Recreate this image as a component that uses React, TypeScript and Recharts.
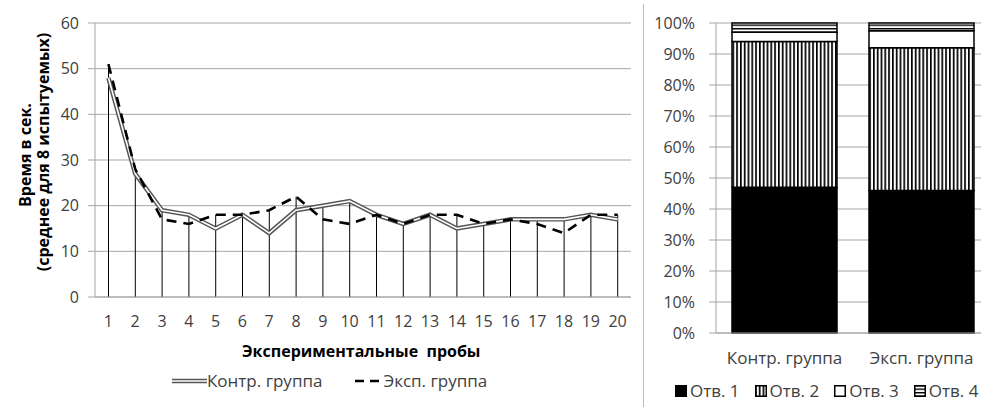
import React from 'react';
import { ComposedChart, BarChart, Bar, Line, XAxis, YAxis, CartesianGrid } from 'recharts';

const trials = ['1', '2', '3', '4', '5', '6', '7', '8', '9', '10', '11', '12', '13', '14', '15', '16', '17', '18', '19', '20'];
const controlTimes = [48, 27, 19, 18, 15, 18, 14, 19, 20, 21, 18, 16, 18, 15, 16, 17, 17, 17, 18, 17];
const expTimes = [51, 28, 17, 16, 18, 18, 19, 22, 17, 16, 18, 16, 18, 18, 16, 17, 16, 14, 18, 18];
const timeTicks = [0, 10, 20, 30, 40, 50, 60];

const groups = ['Контр. группа', 'Эксп. группа'];
const answer1 = [47, 46];
const answer2 = [47, 46];
const answer3 = [3, 5.5];
const answer4 = [3, 2.5];
const percentTicks = [0, 10, 20, 30, 40, 50, 60, 70, 80, 90, 100];

const FONT = '"Open Sans", "Noto Sans", sans-serif';
const TICK = { fontSize: 16, fill: '#404040', fontFamily: FONT };
const CAT_TICK = { fontSize: 17, fill: '#404040', fontFamily: FONT };
const GRID = '#a6a6a6';

const lineData = trials.map((t, i) => ({
  trial: t,
  ctrl: controlTimes[i],
  exp: expTimes[i],
  drop: Math.max(controlTimes[i], expTimes[i]),
}));

const barData = groups.map((g, i) => ({
  group: g,
  a1: answer1[i],
  a2: answer2[i],
  a3: answer3[i],
  a4: answer4[i],
}));

function YTitle() {
  return (
    <g fontFamily={FONT} fontWeight="bold" fontSize={16} fill="#000">
      <text x={25} y={155} transform="rotate(-90 25 155)" textAnchor="middle" dominantBaseline="central">
        Время в сек.
      </text>
      <text x={43} y={152} transform="rotate(-90 43 152)" textAnchor="middle" dominantBaseline="central">
        (среднее для 8 испытуемых)
      </text>
    </g>
  );
}

function Swatch({ fill }: { fill: string }) {
  return (
    <svg width={12} height={12} style={{ marginRight: 3 }}>
      <rect x={0.75} y={0.75} width={10.5} height={10.5} fill={fill} stroke="#000" strokeWidth={1.5} />
    </svg>
  );
}

export default function App() {
  return (
    <div style={{ position: 'absolute', left: 0, top: 0, width: 981, height: 407, overflow: 'hidden', background: '#fff', fontFamily: FONT }}>
      <svg width={0} height={0} style={{ position: 'absolute' }}>
        <defs>
          <pattern id="vstripes" patternUnits="userSpaceOnUse" width={3.8} height={4}>
            <rect x={0} y={0} width={3.8} height={4} fill="#fff" />
            <rect x={0} y={0} width={1.7} height={4} fill="#000" />
          </pattern>
          <pattern id="hstripes" patternUnits="userSpaceOnUse" width={4} height={3.5}>
            <rect x={0} y={0} width={4} height={3.5} fill="#fff" />
            <rect x={0} y={0} width={4} height={1.4} fill="#000" />
          </pattern>
        </defs>
      </svg>

      {/* left: time per trial */}
      <div style={{ position: 'absolute', left: 0, top: 0 }}>
        <ComposedChart width={645} height={407} data={lineData} margin={{ top: 23, right: 14, bottom: 80, left: 35 }}>
          <CartesianGrid vertical={false} stroke={GRID} />
          <XAxis
            dataKey="trial"
            tick={TICK}
            tickLine={false}
            tickSize={0}
            tickMargin={19}
            axisLine={{ stroke: GRID }}
            height={30}
            interval={0}
          />
          <YAxis
            domain={[0, 60]}
            ticks={timeTicks}
            tick={TICK}
            tickSize={7}
            tickMargin={9}
            tickLine={{ stroke: GRID }}
            axisLine={{ stroke: GRID }}
            width={60}
            label={{ content: () => <YTitle /> }}
          />
          <Bar dataKey="drop" barSize={1} fill="#000" isAnimationActive={false} legendType="none" />
          <Line dataKey="ctrl" stroke="#555" strokeWidth={4.5} dot={false} isAnimationActive={false} />
          <Line dataKey="ctrl" stroke="#fff" strokeWidth={1.6} dot={false} isAnimationActive={false} />
          <Line dataKey="exp" stroke="#000" strokeWidth={2.6} strokeDasharray="10 7" dot={false} isAnimationActive={false} />
        </ComposedChart>
        <div style={{ position: 'absolute', left: 242, top: 340, fontSize: 16, fontWeight: 'bold', color: '#000', whiteSpace: 'pre' }}>
          Экспериментальные  пробы
        </div>
        <div style={{ position: 'absolute', left: 172, top: 369, display: 'flex', alignItems: 'center', fontSize: 17, color: '#404040' }}>
          <svg width={35} height={8}>
            <line x1={0} y1={4} x2={35} y2={4} stroke="#555" strokeWidth={4.5} />
            <line x1={0} y1={4} x2={35} y2={4} stroke="#fff" strokeWidth={1.6} />
          </svg>
          <span>Контр. группа</span>
          <svg width={24} height={8} style={{ marginLeft: 33, marginRight: 4 }}>
            <line x1={0} y1={4} x2={24} y2={4} stroke="#000" strokeWidth={2.6} strokeDasharray="9 6" />
          </svg>
          <span>Эксп. группа</span>
        </div>
      </div>

      <div style={{ position: 'absolute', left: 643, top: 4, width: 1, height: 403, background: '#bbb' }} />

      {/* right: answer shares */}
      <div style={{ position: 'absolute', left: 645, top: 0 }}>
        <BarChart width={345} height={407} data={barData} margin={{ top: 23, right: 0, bottom: 44, left: 0 }}>
          <CartesianGrid vertical={false} stroke={GRID} />
          <XAxis
            dataKey="group"
            tick={CAT_TICK}
            tickLine={false}
            tickSize={0}
            tickMargin={19}
            axisLine={{ stroke: GRID }}
            height={30}
          />
          <YAxis
            domain={[0, 100]}
            ticks={percentTicks}
            tickFormatter={(v: number) => `${v}%`}
            tick={TICK}
            tickSize={7}
            tickMargin={14}
            tickLine={{ stroke: GRID }}
            axisLine={{ stroke: GRID }}
            width={71}
          />
          <Bar dataKey="a1" stackId="s" barSize={105} fill="#000" stroke="#000" strokeWidth={1.5} isAnimationActive={false} />
          <Bar dataKey="a2" stackId="s" barSize={105} fill="url(#vstripes)" stroke="#000" strokeWidth={1.5} isAnimationActive={false} />
          <Bar dataKey="a3" stackId="s" barSize={105} fill="#fff" stroke="#000" strokeWidth={1.5} isAnimationActive={false} />
          <Bar dataKey="a4" stackId="s" barSize={105} fill="url(#hstripes)" stroke="#000" strokeWidth={1.5} isAnimationActive={false} />
        </BarChart>
      </div>
      <div style={{ position: 'absolute', left: 675, top: 379, display: 'flex', alignItems: 'center', fontSize: 17, color: '#404040' }}>
        <Swatch fill="#000" />
        <span style={{ marginRight: 15 }}>Отв. 1</span>
        <Swatch fill="url(#vstripes)" />
        <span style={{ marginRight: 15 }}>Отв. 2</span>
        <Swatch fill="#fff" />
        <span style={{ marginRight: 15 }}>Отв. 3</span>
        <Swatch fill="url(#hstripes)" />
        <span>Отв. 4</span>
      </div>
    </div>
  );
}
